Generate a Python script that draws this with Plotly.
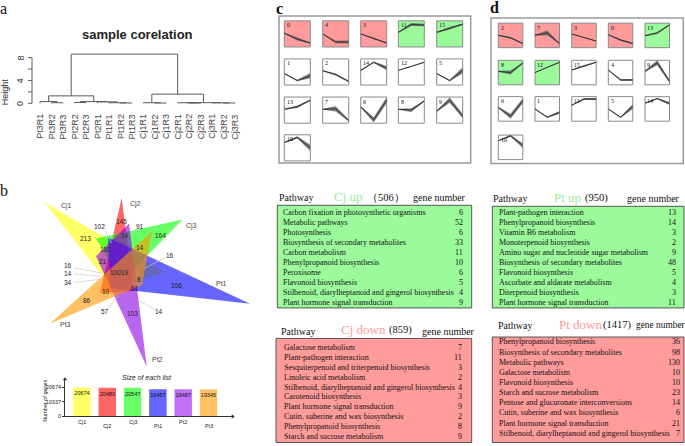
import plotly.graph_objects as go

W, H = 685, 446
SERIF = "Liberation Serif, Times New Roman, serif"
SANS = "Liberation Sans, Arial, sans-serif"

def px(x):
    return x / W

def py(y):
    return 1 - y / H

# ---------------- data ----------------
# panel a: dendrogram
leaf_labels = ["Pt3R1", "Pt3R2", "Pt3R3", "Pt2R2", "Pt2R3", "Pt2R1", "Pt1R1", "Pt1R2", "Pt1R3",
               "Cj1R1", "Cj1R2", "Cj1R3", "Cj2R1", "Cj2R2", "Cj2R3", "Cj3R1", "Cj3R2", "Cj3R3"]
merge_left = [1, 0, 3, 7, 6, 5, 20, 19, 10, 9, 13, 12, 16, 15, 29, 27, 25]
merge_right = [2, 18, 4, 8, 21, 22, 23, 24, 11, 26, 14, 28, 17, 30, 31, 32, 33]
merge_height = [0.1, 0.3, 0.15, 0.05, 0.1, 0.25, 0.3, 1.3, 0.05, 0.1, 0.05, 0.1, 0.05, 0.08, 0.12, 1.6, 8.6]
height_ticks = [0, 2, 4, 6, 8]
height_labels = ["0", "", "4", "", "8"]

# panel b: venn counts and bar chart
set_names = ["Cj1", "Cj2", "Cj3", "Pt1", "Pt2", "Pt3"]
venn_counts = ["145", "102", "91", "213", "14", "164", "110", "14", "16", "21", "16", "14", "34",
               "10019", "8", "106", "61", "10", "86", "57", "103", "14"]
list_sizes = [20674, 20480, 20547, 19457, 19487, 19345]
size_ticks = [0, 10337, 20674]

# panel c / d: expression-profile clusters (values at 3 time points)
c_ids = [0, 4, 3, 11, 15, 1, 2, 14, 12, 5, 13, 7, 6, 8, 9, 10]
c_kind = ["down", "down", "down", "up", "up"] + ["none"] * 11
c_profiles = [[0.53, 0.30, 0.15], [0.50, 0.19, 0.19], [0.50, 0.33, 0.15], [0.56, 0.86, 0.84],
              [0.56, 0.72, 0.87], [0.44, 0.17, 0.36], [0.55, 0.40, 0.14], [0.56, 0.87, 0.65],
              [0.56, 0.72, 0.87], [0.44, 0.17, 0.56], [0.53, 0.63, 0.88], [0.53, 0.55, 0.10],
              [0.63, 0.13, 0.88], [0.53, 0.50, 0.85], [0.46, 0.88, 0.27], [0.70, 0.90, 0.50]]
c_spread = [[0.02, 0.05, 0.03], [0.02, 0.05, 0.06], [0.01, 0.03, 0.02], [0.02, 0.06, 0.05],
            [0.02, 0.05, 0.03], [0.02, 0.03, 0.10], [0.02, 0.04, 0.03], [0.02, 0.03, 0.08],
            [0.01, 0.02, 0.02], [0.02, 0.03, 0.12], [0.02, 0.05, 0.03], [0.02, 0.10, 0.04],
            [0.03, 0.10, 0.12], [0.02, 0.07, 0.03], [0.03, 0.10, 0.08], [0.02, 0.04, 0.12]]

d_ids = [2, 7, 3, 0, 13, 8, 12, 15, 4, 9, 6, 1, 11, 5, 14, 10]
d_kind = ["down", "down", "down", "down", "up", "up", "up"] + ["none"] * 9
d_profiles = [[0.51, 0.40, 0.17], [0.51, 0.60, 0.17], [0.56, 0.41, 0.27], [0.53, 0.31, 0.17],
              [0.49, 0.60, 0.93], [0.55, 0.50, 0.89], [0.50, 0.70, 0.92], [0.60, 0.77, 0.92],
              [0.60, 0.20, 0.20], [0.55, 0.90, 0.14], [0.56, 0.20, 0.83], [0.50, 0.16, 0.36],
              [0.65, 0.90, 0.90], [0.50, 0.16, 0.60], [0.73, 0.92, 0.72], [0.77, 0.97, 0.57]]
d_spread = [[0.02, 0.04, 0.03], [0.02, 0.10, 0.03], [0.01, 0.02, 0.02], [0.02, 0.04, 0.03],
            [0.02, 0.04, 0.03], [0.02, 0.08, 0.03], [0.01, 0.02, 0.02], [0.02, 0.04, 0.02],
            [0.02, 0.04, 0.04], [0.03, 0.10, 0.07], [0.03, 0.10, 0.10], [0.02, 0.03, 0.06],
            [0.02, 0.04, 0.04], [0.02, 0.03, 0.10], [0.02, 0.03, 0.06], [0.02, 0.04, 0.10]]
time_points = [0, 0.5, 1]

# KEGG tables
cj_up_count = "（506）"
cj_up_paths = ["Carbon fixation in photosynthetic organisms", "Metabolic pathways", "Photosynthesis",
               "Biosynthesis of secondary metabolites", "Carbon metabolism", "Phenylpropanoid biosynthesis",
               "Peroxisome", "Flavonoid biosynthesis",
               "Stilbenoid, diarylheptanoid and gingerol biosynthesis", "Plant hormone signal transduction"]
cj_up_genes = [6, 52, 6, 33, 11, 10, 6, 5, 4, 9]

pt_up_count = "(950)"
pt_up_paths = ["Plant-pathogen interaction", "Phenylpropanoid biosynthesis", "Vitamin B6 metabolism",
               "Monoterpenoid biosynthesis", "Amino sugar and nucleotide sugar metabolism",
               "Biosynthesis of secondary metabolites", "Flavonoid biosynthesis",
               "Ascorbate and aldarate metabolism", "Diterpenoid biosynthesis",
               "Plant hormone signal transduction"]
pt_up_genes = [13, 14, 3, 2, 9, 48, 5, 4, 3, 11]

cj_down_count = "(859)"
cj_down_paths = ["Galactose metabolism", "Plant-pathogen interaction",
                 "Sesquiterpenoid and triterpenoid biosynthesis", "Linoleic acid metabolism",
                 "Stilbenoid, diarylheptanoid and gingerol biosynthesis", "Carotenoid biosynthesis",
                 "Plant hormone signal transduction", "Cutin, suberine and wax biosynthesis",
                 "Phenylpropanoid biosynthesis", "Starch and sucrose metabolism"]
cj_down_genes = [7, 11, 3, 2, 4, 3, 9, 2, 8, 9]

pt_down_count = "(1417)"
pt_down_paths = ["Phenylpropanoid biosynthesis", "Biosynthesis of secondary metabolites",
                 "Metabolic pathways", "Galactose metabolism", "Flavonoid biosynthesis",
                 "Starch and sucrose metabolism", "Pentose and glucuronate interconversions",
                 "Cutin, suberine and wax biosynthesis", "Plant hormone signal transduction",
                 "Stilbenoid, diarylheptanoid and gingerol biosynthesis"]
pt_down_genes = [36, 98, 130, 10, 10, 23, 14, 6, 21, 7]

# ---------------- styles / geometry ----------------
GREEN_FILL = "#9bfb9b"
RED_FILL = "#ff9b9b"
GREEN_TXT = "#98ee98"
RED_TXT = "#ff9a9a"

fig = go.Figure()
annotations = []
shapes = []
lay = {}


def ann(text, x, y, size, color="#111", family=SERIF, xanchor="left", yanchor="middle",
        angle=0, xref="paper", yref="paper", **kw):
    annotations.append(dict(text=text, x=x, y=y, xref=xref, yref=yref, showarrow=False,
                            font=dict(size=size, color=color, family=family),
                            xanchor=xanchor, yanchor=yanchor, textangle=angle,
                            borderpad=0, **kw))


# ---------------- panel a ----------------
LEAF0, LEAFSTEP = 40.0, 11.47
HZERO, HSCALE = 104.0, 5.75
xr = [-3.4, 18]
yr = [-0.5, 9.5]
lay["xaxis"] = dict(domain=[px(LEAF0 + xr[0] * LEAFSTEP), px(LEAF0 + xr[1] * LEAFSTEP)], range=xr,
                    visible=False, anchor="y")
lay["yaxis"] = dict(domain=[py(HZERO - yr[0] * HSCALE), py(HZERO - yr[1] * HSCALE)], range=yr,
                    visible=False, anchor="x")

pos = {i: float(i) for i in range(len(leaf_labels))}
hgt = {i: 0.0 for i in range(len(leaf_labels))}
dx, dy = [], []
for n, (a, b, h) in enumerate(zip(merge_left, merge_right, merge_height)):
    nid = len(leaf_labels) + n
    dx += [pos[a], pos[a], pos[b], pos[b], None]
    dy += [hgt[a], h, h, hgt[b], None]
    pos[nid] = (pos[a] + pos[b]) / 2
    hgt[nid] = h
fig.add_trace(go.Scatter(x=dx, y=dy, mode="lines", line=dict(color="#5a5a5a", width=1),
                         xaxis="x", yaxis="y", hoverinfo="skip"))
# height axis
AX = (32 - LEAF0) / LEAFSTEP
TL = 4 / LEAFSTEP
axx, axy = [AX, AX, None], [height_ticks[0], height_ticks[-1], None]
for t in height_ticks:
    axx += [AX, AX - TL, None]
    axy += [t, t, None]
fig.add_trace(go.Scatter(x=axx, y=axy, mode="lines", line=dict(color="#5a5a5a", width=1),
                         xaxis="x", yaxis="y", hoverinfo="skip"))
for t, lab in zip(height_ticks, height_labels):
    if lab:
        ann(lab, px(20.8), t, 9, "#333", SANS, "center", "middle", -90, yref="y")
ann("Height", px(5), py(93), 9, "#333", SANS, "center", "middle", -90)
for i, lab in enumerate(leaf_labels):
    ann(lab, i, py(114), 9, "#444", SANS, "center", "top", -90, xref="x")
ann("<b>sample corelation</b>", px(137), py(35), 13, "#222", SANS, "center", "middle")

# panel letters
ann("a", px(4), py(8.5), 16, "#111", SERIF, "center", "middle")
ann("b", px(4), py(192), 16, "#111", SERIF, "center", "middle")
ann("<b>c</b>", px(279.5), py(9), 16, "#111", SERIF, "center", "middle")
ann("<b>d</b>", px(494), py(8), 16, "#111", SERIF, "center", "middle")

# ---------------- panel b : venn ----------------
VX, VY = [0, 260], [190, 375]
lay["xaxis2"] = dict(domain=[px(VX[0]), px(VX[1])], range=VX, visible=False, anchor="y2")
lay["yaxis2"] = dict(domain=[py(VY[1]), py(VY[0])], range=[VY[1], VY[0]], visible=False, anchor="x2")

tri_pts = [
    [(45, 204), (165, 274), (112, 290)],      # Cj1
    [(121.7, 199), (100, 295), (133, 293)],   # Cj2
    [(182.7, 221), (96, 240), (122, 283)],    # Cj3
    [(250, 305.7), (108, 239), (110, 290)],   # Pt1
    [(146.7, 369), (96, 258), (129, 225)],    # Pt2
    [(50, 325.7), (152, 233), (142, 287)],    # Pt3
]
tri_cols = ["rgba(255,255,0,0.6)", "rgba(255,0,0,0.6)", "rgba(0,255,0,0.6)",
            "rgba(0,0,255,0.6)", "rgba(140,0,230,0.6)", "rgba(255,150,0,0.6)"]
for pts, col in zip(tri_pts, tri_cols):
    xs = [p[0] for p in pts] + [pts[0][0]]
    ys = [p[1] for p in pts] + [pts[0][1]]
    fig.add_trace(go.Scatter(x=xs, y=ys, mode="lines", fill="toself", fillcolor=col,
                             line=dict(width=0), xaxis="x2", yaxis="y2", hoverinfo="skip"))

leaders = [((105, 231.5), (111.7, 245)), ((136, 230.5), (131.7, 237)), ((166.7, 258.5), (145, 270)),
           ((73.5, 269.5), (101.7, 275)), ((73.5, 275.7), (100, 278.3)), ((73.5, 284.3), (101.7, 281)),
           ((106.7, 311), (118.3, 298.3)), ((155, 311.5), (140, 303.3))]
lx, ly = [], []
for (a, b) in leaders:
    lx += [a[0], b[0], None]
    ly += [a[1], b[1], None]
fig.add_trace(go.Scatter(x=lx, y=ly, mode="lines", line=dict(color="#c8c8c8", width=0.7),
                         xaxis="x2", yaxis="y2", hoverinfo="skip"))

count_pos = [(121.7, 223.3), (99, 228.3), (140, 227.7), (85, 240), (125, 236.7), (160, 236.7),
             (105, 251), (140, 249.3), (170, 257.3), (102.7, 263.3), (68.3, 267.7), (68.3, 275.7),
             (68.3, 284.3), (119.3, 274), (139, 281), (176, 287.7), (135, 290.7), (106, 293.3),
             (86.7, 302.3), (105.3, 314), (132, 315.7), (158.7, 314)]
for txt, (x, y) in zip(venn_counts, count_pos):
    ann(txt, x, y, 6.5, "#222", SANS, "center", "middle", xref="x2", yref="y2")
name_pos = [(66.7, 207.3), (135, 205), (191, 227.7), (221.7, 285.7), (157.7, 361.7), (65, 327)]
for txt, (x, y) in zip(set_names, name_pos):
    ann(txt, x, y, 7, "#444", SANS, "center", "middle", xref="x2", yref="y2")

# ---------------- panel b : bar chart ----------------
B0, BSTEP = 82.0, 25.3
BY0, BYTOP = 419.3, 381.7
bymax = size_ticks[-1] * (BY0 - BYTOP) / (BY0 - 390.1)
bxr = [(65 - B0) / BSTEP, (232.7 - B0) / BSTEP]
lay["xaxis3"] = dict(domain=[px(65), px(232.7)], range=bxr, anchor="y3", showline=True,
                     linecolor="#333", linewidth=0.8, showticklabels=False, ticks="",
                     showgrid=False, zeroline=False)
lay["yaxis3"] = dict(domain=[py(BY0), py(BYTOP)], range=[0, bymax], anchor="x3", showline=True,
                     linecolor="#333", linewidth=0.8, tickvals=size_ticks,
                     ticktext=[str(v) for v in size_ticks], ticks="outside", ticklen=2,
                     tickcolor="#333", tickfont=dict(size=5.5, family=SANS, color="#222"),
                     showgrid=False, zeroline=False)
bar_cols = ["#ffff66", "#ff6666", "#66ff66", "#6666ff", "#bf70f5", "#ffc266"]
fig.add_trace(go.Bar(x=list(range(len(set_names))), y=list_sizes, marker=dict(color=bar_cols, line=dict(width=0)),
                     width=0.69, text=[str(v) for v in list_sizes], textposition="inside",
                     insidetextanchor="end", constraintext="none", textangle=0,
                     textfont=dict(size=5.5, family=SANS, color="#111"), xaxis="x3", yaxis="y3",
                     hoverinfo="skip"))
fig.add_trace(go.Scatter(x=[bxr[1], bxr[0]], y=[0, bymax], mode="markers",
                         marker=dict(symbol=["triangle-right", "triangle-up"], size=4, color="#333"),
                         xaxis="x3", yaxis="y3", cliponaxis=False, hoverinfo="skip"))
for i, nm in enumerate(set_names):
    ann(nm, i, py(425 if i % 2 == 0 else 429), 5.5, "#222", SANS, "center", "middle", xref="x3")
ann("<i>Size of each list</i>", px(147), py(380), 7, "#222", SANS, "center", "middle")
ann("Number of genes", px(45.5), py(404), 5.5, "#222", SANS, "center", "middle", -90)

# ---------------- panels c / d : profile clusters ----------------
panel_specs = [
    dict(ids=c_ids, kind=c_kind, prof=c_profiles, spr=c_spread,
         cols=[284.3, 322.7, 360.7, 398.3, 436.7], rows=[21, 59.3, 97.7, 135.7], w=26, h=26.3,
         box=(279, 16, 470.7, 164)),
    dict(ids=d_ids, kind=d_kind, prof=d_profiles, spr=d_spread,
         cols=[498.3, 535, 571.7, 608.3, 645], rows=[23.3, 60.7, 97.3, 136], w=24.5, h=24.7,
         box=(491, 18, 683.3, 164.5)),
]
ax_i = 4
for spec in panel_specs:
    b = spec["box"]
    shapes.append(dict(type="rect", xref="paper", yref="paper", x0=px(b[0]), x1=px(b[2]),
                       y0=py(b[3]), y1=py(b[1]), line=dict(color="#9a9a9a", width=1.5),
                       fillcolor="rgba(0,0,0,0)", layer="below"))
    for k, cid in enumerate(spec["ids"]):
        r, c = divmod(k, 5)
        x0 = spec["cols"][c]
        y0 = spec["rows"][r]
        xa, ya = f"x{ax_i}", f"y{ax_i}"
        lay[f"xaxis{ax_i}"] = dict(domain=[px(x0), px(x0 + spec["w"])], range=[0, 1],
                                   visible=False, anchor=ya)
        lay[f"yaxis{ax_i}"] = dict(domain=[py(y0 + spec["h"]), py(y0)], range=[0, 1],
                                   visible=False, anchor=xa)
        kind = spec["kind"][k]
        fill = GREEN_FILL if kind == "up" else (RED_FILL if kind == "down" else "white")
        shapes.append(dict(type="rect", xref=f"{xa} domain", yref=f"{ya} domain", x0=0, x1=1,
                           y0=0, y1=1, fillcolor=fill, line=dict(color="#8a8a8a", width=1),
                           layer="below"))
        vals = spec["prof"][k]
        sp = spec["spr"][k]
        up = [v + s for v, s in zip(vals, sp)]
        lo = [v - s for v, s in zip(vals, sp)]
        fig.add_trace(go.Scatter(x=time_points + time_points[::-1], y=up + lo[::-1], mode="lines",
                                 fill="toself", fillcolor="rgba(95,95,95,0.8)", line=dict(width=0),
                                 xaxis=xa, yaxis=ya, hoverinfo="skip"))
        fig.add_trace(go.Scatter(x=time_points, y=vals, mode="lines",
                                 line=dict(color="#333", width=1), xaxis=xa, yaxis=ya,
                                 hoverinfo="skip"))
        ann(str(cid), 0.06, 0.98, 6, "#111", SERIF, "left", "top", xref=f"{xa} domain",
            yref=f"{ya} domain")
        ax_i += 1

# ---------------- tables ----------------
tables = [
    dict(title="Cj up", tcol=GREEN_TXT, count=cj_up_count, paths=cj_up_paths, genes=cj_up_genes,
         fill=GREEN_FILL, box=(277.3, 206.7, 471.7, 310), hdr_y=199.3, path_x=278.3, title_x=332.7,
         count_x=366, gene_x=411.7, gsize=10, row_x=281.7, row_y0=214.3, row_dy=10, num_x=464),
    dict(title="Pt up", tcol=GREEN_TXT, count=pt_up_count, paths=pt_up_paths, genes=pt_up_genes,
         fill=GREEN_FILL, box=(492.3, 207.7, 684, 310), hdr_y=200, path_x=492.3, title_x=553.3,
         count_x=584.3, gene_x=625.7, gsize=10, row_x=498.3, row_y0=214.3, row_dy=10, num_x=677.3),
    dict(title="Cj down", tcol=RED_TXT, count=cj_down_count, paths=cj_down_paths,
         genes=cj_down_genes, fill=RED_FILL, box=(276, 340.7, 471.7, 445.5), hdr_y=333.3,
         path_x=280, title_x=340, count_x=387.7, gene_x=421, gsize=10, row_x=282.7, row_y0=350,
         row_dy=9.93, num_x=462.7),
    dict(title="Pt down", tcol=RED_TXT, count=pt_down_count, paths=pt_down_paths,
         genes=pt_down_genes, fill=RED_FILL, box=(492.3, 339.3, 684, 445.5), hdr_y=327.7,
         path_x=496.7, title_x=557.7, count_x=601.7, gene_x=634.5, gsize=9.4, row_x=498.3,
         row_y0=344.3, row_dy=10.2, num_x=681),
]
for t in tables:
    b = t["box"]
    shapes.append(dict(type="rect", xref="paper", yref="paper", x0=px(b[0]), x1=px(b[2]),
                       y0=py(b[3]), y1=py(b[1]), fillcolor=t["fill"],
                       line=dict(color="#555", width=1), layer="below"))
    ann("Pathway", px(t["path_x"]), py(t["hdr_y"]), 10, "#111", SERIF)
    ann(t["title"], px(t["title_x"]), py(t["hdr_y"] - 1.5), 13, t["tcol"], SERIF)
    ann(t["count"], px(t["count_x"]), py(t["hdr_y"] - 0.8), 10.5, "#111", SERIF)
    ann("gene number", px(t["gene_x"]), py(t["hdr_y"]), t["gsize"], "#111", SERIF)
    for j, (p, g) in enumerate(zip(t["paths"], t["genes"])):
        yy = py(t["row_y0"] + j * t["row_dy"])
        ann(p, px(t["row_x"]), yy, 8, "#111", SERIF)
        ann(str(g), px(t["num_x"]), yy, 8, "#111", SERIF, "right")

fig.update_layout(width=W, height=H, margin=dict(l=0, r=0, t=0, b=0), paper_bgcolor="white",
                  plot_bgcolor="rgba(0,0,0,0)", showlegend=False, annotations=annotations,
                  shapes=shapes, **lay)
fig.write_html("out.html", config={"displayModeBar": False},
               post_script="document.body.style.margin='0';document.body.style.overflow='hidden';")
